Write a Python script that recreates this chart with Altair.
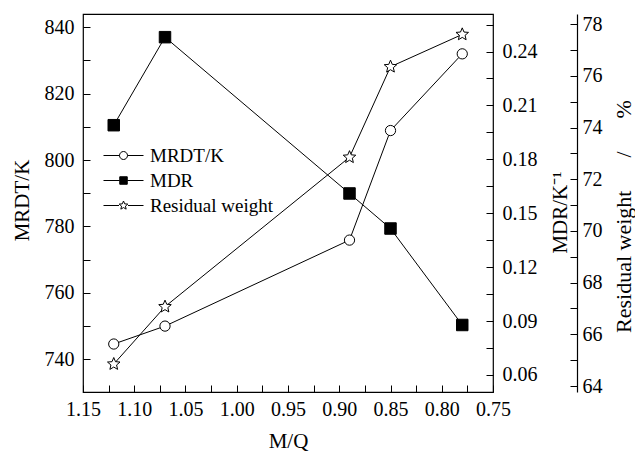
import altair as alt
import pandas as pd

# ---- data ----
mq = [1.12, 1.07, 0.89, 0.85, 0.78]
mrdt = [744.6, 750.0, 775.9, 808.9, 832.0]
mdr = [0.199, 0.248, 0.161, 0.1415, 0.0878]
resid = [64.85, 67.07, 72.85, 76.35, 77.6]

series_names = ["MRDT/K", "MDR", "Residual weight"]

x_ticks = [round(0.75 + 0.025 * i, 3) for i in range(17)]
mrdt_ticks = [740 + 10 * i for i in range(11)]
mdr_ticks = [round(0.06 + 0.015 * i, 3) for i in range(14)]
rw_ticks = [64 + i for i in range(15)]

df = pd.DataFrame({"mq": mq, "mrdt": mrdt, "mdr": mdr, "rw": resid})
df_leg = pd.DataFrame({"series": series_names})

FONT = "Liberation Serif"
LBL = 20
TTL = 21
SP = "\u00a0" * 6
RW_TITLE = "Residual weight" + SP + "/" + SP + "%"

STAR = ("M0,-1L0.265,-0.364L0.951,-0.309L0.428,0.139L0.588,0.809L0,0.45"
        "L-0.588,0.809L-0.428,0.139L-0.951,-0.309L-0.265,-0.364Z")

# legend symbols: unit r = 5 px (symbolSize 100); stubs reach +-4 (20 px)
LEG_CIRCLE = ("M-4,0L-0.8,0M0.8,0L4,0M-0.8,0A0.8,0.8,0,1,1,0.8,0"
              "A0.8,0.8,0,1,1,-0.8,0Z")
LEG_SQUARE = ("M-4,0L-0.75,0M0.75,0L4,0M-0.75,-0.75L0.75,-0.75L0.75,0.75"
              "L-0.75,0.75Z")
LEG_STAR = ("M-4,0L-0.9,0M0.9,0L4,0M0,-0.9L0.24,-0.33L0.86,-0.28"
            "L0.39,0.13L0.53,0.73L0,0.41L-0.53,0.73L-0.39,0.13"
            "L-0.86,-0.28L-0.24,-0.33Z")

common = dict(labelFont=FONT, labelFontSize=LBL, labelColor="black",
              titleFont=FONT, titleFontSize=TTL, titleColor="black",
              titleFontWeight="normal", tickColor="black", tickWidth=1,
              labelFlush=False, labelOverlap=False, grid=False)

x_scale = alt.Scale(domain=[0.75, 1.15], reverse=True, nice=False, zero=False)
x_axis = alt.Axis(
    values=x_ticks, title="M/Q", orient="bottom", offset=-7, domain=False,
    tickSize=7, labelPadding=7,
    labelExpr="round(datum.value*1000) % 50 == 0 ? format(datum.value, '.2f') : ''",
    titleX=205, titleY=62, titleBaseline="alphabetic", titleAlign="center",
    **common,
)

y1_scale = alt.Scale(domain=[730.15, 844.0], nice=False, zero=False)
y1_axis = alt.Axis(
    values=mrdt_ticks, title="MRDT/K", orient="left", offset=-7, domain=False,
    tickSize=7, labelPadding=9,
    labelExpr="datum.value % 20 == 0 ? format(datum.value, 'd') : ''",
    titleAngle=270, titleX=-68, titleY=186, titleBaseline="middle", titleAlign="center",
    **common,
)

y2_scale = alt.Scale(domain=[0.0505, 0.2609], nice=False, zero=False)
y2_axis = alt.Axis(
    values=mdr_ticks, title="MDR/K\u207b\u00b9", orient="right", offset=-7, domain=False,
    tickSize=7, labelPadding=9,
    labelExpr="round(datum.value*1000) % 30 == 0 ? format(datum.value, '.2f') : ''",
    titleAngle=270, titleX=74, titleY=198, titleBaseline="middle", titleAlign="center",
    **common,
)

y3_scale = alt.Scale(domain=[63.77, 78.39], nice=False, zero=False)
y3_axis = alt.Axis(
    values=rw_ticks, title=None, orient="right", offset=77, domain=False,
    tickSize=7, labelPadding=5,
    labelExpr="datum.value % 2 == 0 ? format(datum.value, 'd') : ''",
    **common,
)
common_rw = dict(common, titleFontSize=22)
y3_dom_axis = alt.Axis(
    title=RW_TITLE, orient="right", offset=84, domain=True,
    domainColor="black", domainWidth=1.2,
    ticks=False, labels=False,
    titleAngle=270, titleX=46, titleY=202, titleBaseline="middle", titleAlign="center",
    **common_rw,
)

X = alt.X("mq:Q", scale=x_scale, axis=x_axis)

base = alt.Chart(df)

l1 = alt.layer(
    base.mark_line(color="black", strokeWidth=1).encode(
        x=X, y=alt.Y("mrdt:Q", scale=y1_scale, axis=y1_axis)),
    base.mark_point(shape="circle", size=105, filled=True, fill="white",
                    stroke="black", strokeWidth=1, opacity=1).encode(
        x=X, y=alt.Y("mrdt:Q", scale=y1_scale, axis=y1_axis)),
)

l2 = alt.layer(
    base.mark_line(color="black", strokeWidth=1).encode(
        x=X, y=alt.Y("mdr:Q", scale=y2_scale, axis=y2_axis)),
    base.mark_point(shape="square", size=132, filled=True, fill="black",
                    stroke="black", strokeWidth=1, opacity=1).encode(
        x=X, y=alt.Y("mdr:Q", scale=y2_scale, axis=y2_axis)),
)

l3 = alt.layer(
    base.mark_line(color="black", strokeWidth=1).encode(
        x=X, y=alt.Y("rw:Q", scale=y3_scale, axis=y3_axis)),
    base.mark_point(shape=STAR, size=173, filled=True, fill="white",
                    stroke="black", strokeWidth=1, opacity=1).encode(
        x=X, y=alt.Y("rw:Q", scale=y3_scale, axis=y3_axis)),
)

l4 = base.mark_point(opacity=0).encode(
    x=X, y=alt.Y("rw:Q", scale=y3_scale, axis=y3_dom_axis))

legend = alt.Legend(
    orient="none", legendX=31, legendY=132, title=None,
    labelFont=FONT, labelFontSize=19, labelColor="black", labelOffset=17,
    symbolStrokeColor="black", symbolStrokeWidth=1, symbolSize=100,
    rowPadding=5,
)
leg = alt.Chart(df_leg).mark_point(filled=True, stroke="black", strokeWidth=1, opacity=1).encode(
    shape=alt.Shape("series:N", scale=alt.Scale(domain=series_names,
                    range=[LEG_CIRCLE, LEG_SQUARE, LEG_STAR]), legend=legend),
    fill=alt.Fill("series:N", scale=alt.Scale(domain=series_names,
                  range=["white", "black", "white"]), legend=legend),
    stroke=alt.Stroke("series:N", scale=alt.Scale(domain=series_names,
                      range=["black", "black", "black"]), legend=legend),
).transform_filter("false")

chart = alt.layer(l1, l2, l3, l4, leg).resolve_scale(
    y="independent"
).properties(
    width=410, height=378,
    autosize=alt.AutoSizeParams(type="none"),
    padding={"left": 83, "top": 14, "right": 142, "bottom": 65},
    background="white",
).configure(
    font=FONT,
).configure_view(
    stroke="black", strokeWidth=1.2
)

chart.save("out.html", embed_options={"renderer": "svg", "actions": False})
